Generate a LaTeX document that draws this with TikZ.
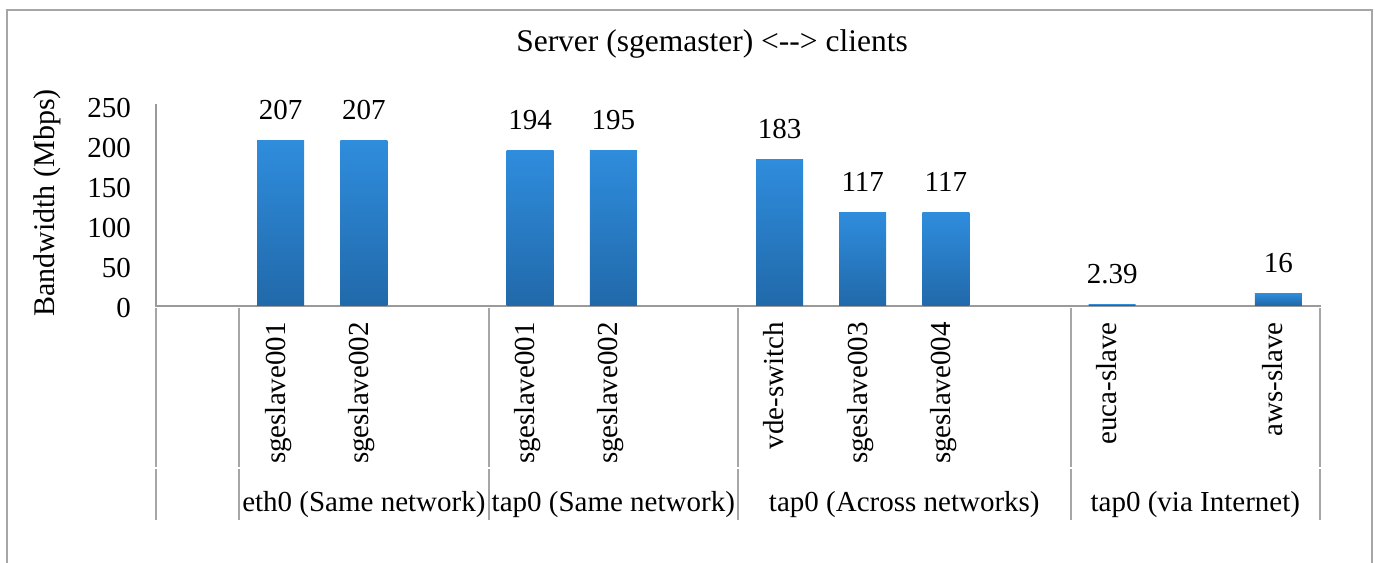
\documentclass[tikz,border=0pt]{standalone}
\usepackage{fontspec}
\setmainfont{Liberation Serif}
\definecolor{frame}{HTML}{A6A6A6}
\definecolor{axisgray}{HTML}{9A9A9A}
\definecolor{bartop}{HTML}{2F8DDD}
\definecolor{barbot}{HTML}{2169AA}
\begin{document}
\begin{tikzpicture}[x=1pt,y=-1pt,
  lbl/.style={font=\fontsize{29}{31}\selectfont, inner sep=0pt},
  ttl/.style={font=\fontsize{31.5}{33}\selectfont, inner sep=0pt},
  barbox/.style={top color=bartop, bottom color=barbot, draw=none},
  gridline/.style={draw=axisgray, line width=2pt},
  boxline/.style={draw=frame, line width=1.5pt}]
\useasboundingbox (0,0) rectangle (1375,562);
% outer chart frame (open at the bottom edge of the page)
\draw[boxline] (7,570) -- (7,10) -- (1372,10) -- (1372,570);
% title
\node[ttl] (title) at (712,44) {Server (sgemaster) <-{}-> clients};
% axes
\coordinate (yt) at (156,104);
\coordinate (o) at (156,306);
\coordinate (xe) at (1321,306);
\draw[gridline] (yt) -- (o) -- (xe);
% y tick labels
\foreach \v in {0,50,...,250}
  \node[lbl, anchor=east] (t\v) at (131,{308-0.8*\v}) {\v};
\node[lbl, font=\fontsize{30}{32}\selectfont, rotate=90] (ylab) at (47,203) {Bandwidth (Mbps)};
% bars: category index, value, printed value, client name
\def\cw{83.143}
\foreach \i/\v/\p/\n in {1/207/207/sgeslave001, 2/207/207/sgeslave002,
    4/194/194/sgeslave001, 5/195/195/sgeslave002,
    7/183/183/vde-switch, 8/117/117/sgeslave003, 9/117/117/sgeslave004,
    11/2.39/2.39/euca-slave, 13/16/16/aws-slave}{
  \pgfmathsetmacro{\cx}{156+(\i+0.5)*\cw}
  \pgfmathsetmacro{\ty}{306-0.8*\v}
  \path[barbox] (\cx-23.5,\ty) rectangle (\cx+23.5,305);
  \node[lbl, anchor=base] (val\i) at (\cx,\ty-21) {\p};
  \node[lbl, rotate=90, anchor=mid east] (cat\i) at (\cx+2,322) {\n};
}
% category separators below the axis
\foreach \k in {0,1,4,7,11,14}{
  \pgfmathsetmacro{\sx}{156+\k*\cw}
  \draw[gridline, draw=frame] (\sx,308) -- (\sx,467);
  \draw[gridline, draw=frame] (\sx,469) -- (\sx,520);
}
% group labels
\node[lbl] (g1) at ({156+2.5*\cw},505) {eth0 (Same network)};
\node[lbl] (g2) at ({156+5.5*\cw},505) {tap0 (Same network)};
\node[lbl] (g3) at ({156+9*\cw},505) {tap0 (Across networks)};
\node[lbl] (g4) at ({156+12.5*\cw},505) {tap0 (via Internet)};
\end{tikzpicture}
\end{document}
